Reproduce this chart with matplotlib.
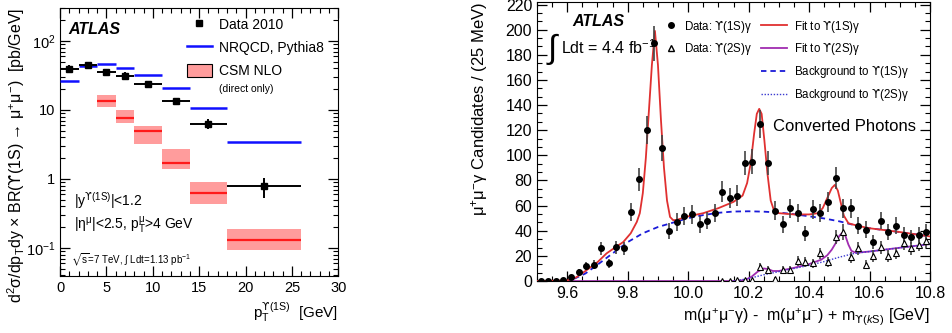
import numpy as np
import matplotlib
matplotlib.use("Agg")
import matplotlib.pyplot as plt
from matplotlib.ticker import MultipleLocator, FixedLocator, FixedFormatter, LogLocator, NullFormatter
from matplotlib.lines import Line2D
from matplotlib.patches import Patch

plt.rcParams['font.family'] = ['Liberation Sans', 'DejaVu Sans']
plt.rcParams['mathtext.fontset'] = 'custom'
plt.rcParams['mathtext.rm'] = 'Liberation Sans'
plt.rcParams['mathtext.it'] = 'Liberation Sans:italic'
plt.rcParams['mathtext.bf'] = 'Liberation Sans:bold'
plt.rcParams['mathtext.sf'] = 'DejaVu Sans'
plt.rcParams['mathtext.fallback'] = 'stixsans'

UPS = '$\\mathsf{ϒ}$'

# ---- left panel: Upsilon(1S) cross section vs pT ----
bin_lo = [0, 2, 4, 6, 8, 11, 14, 18]
bin_hi = [2, 4, 6, 8, 11, 14, 18, 26]
data_xs = [39, 45, 35, 31, 24, 13.3, 6.3, 0.8]
data_err_lo = [5, 3.5, 4.5, 4, 2, 1.7, 1.1, 0.28]
data_err_hi = [5, 3.5, 4.5, 4, 2, 1.7, 1.1, 0.22]
nrqcd = [26.6, 43, 47, 41, 32, 20.5, 10.5, 3.4]
csm_bin_lo = [4, 6, 8, 11, 14, 18]
csm_bin_hi = [6, 8, 11, 14, 18, 26]
csm_central = [13.3, 7.7, 4.9, 1.7, 0.63, 0.13]
csm_low = [11, 6.4, 3.2, 1.39, 0.43, 0.093]
csm_high = [16.5, 10, 5.9, 2.75, 0.91, 0.19]

# ---- right panel: chi_b mass spectrum, 25 MeV bins from 9.5 to 10.8 ----
mass_lo, mass_bin = 9.5, 0.025
counts_1s = [0, 0, 0, 1, 3, 7, 12, 13, 26, 14, 27, 26, 55, 81, 120, 189, 106,
             40, 47, 52, 53, 45, 48, 54, 71, 66, 68, 94, 95, 125, 94, 56, 45,
             58, 54, 38, 57, 54, 63, 82, 58, 58, 44, 41, 31, 48, 39, 44, 37,
             35, 37, 39]
first_2s_bin = 24
counts_2s = [0, 0, 1, 1, 1, 11, 9, 2, 9, 9, 16, 15, 14, 22, 15, 35, 39, 19,
             26, 13, 20, 27, 20, 22, 30, 26, 29, 32]

fit1_m = [9.50, 9.60, 9.63, 9.66, 9.70, 9.73, 9.76, 9.785, 9.81, 9.83, 9.84,
          9.85, 9.86, 9.87, 9.88, 9.89, 9.90, 9.91, 9.92, 9.93, 9.94, 9.95,
          9.96, 10.00, 10.05, 10.10, 10.15, 10.18, 10.195, 10.207, 10.218,
          10.227, 10.235, 10.243, 10.252, 10.262, 10.273, 10.284, 10.30,
          10.35, 10.40, 10.43, 10.445, 10.46, 10.475, 10.485, 10.495, 10.505,
          10.515, 10.53, 10.56, 10.60, 10.70, 10.80]
fit1_v = [0, 0.5, 3, 8, 15, 22, 27, 31, 38, 47, 54, 70, 98, 135, 172, 199,
          172, 128, 90, 64, 51, 48.5, 48.5, 51.5, 54, 58, 63, 68, 78, 94, 117,
          133, 137, 133, 112, 86, 64, 56, 54, 53, 53, 54, 58, 66, 74, 76.5,
          72, 62, 52, 46, 44, 42, 39, 35.5]

bkg1_m = [9.50, 9.60, 9.62, 9.66, 9.70, 9.75, 9.80, 9.85, 9.90, 9.95, 10.00,
          10.05, 10.10, 10.15, 10.20, 10.25, 10.30, 10.35, 10.40, 10.45,
          10.50, 10.55, 10.60, 10.70, 10.80]
bkg1_v = [0, 0, 1.5, 6, 13, 22, 31, 38, 43, 46.5, 50, 52.5, 54.3, 55.3, 55.5,
          55.2, 54.5, 53.2, 51.5, 49.8, 47.5, 44.5, 42, 39, 35.5]

fit2_m = [9.50, 10.16, 10.19, 10.21, 10.23, 10.25, 10.265, 10.28, 10.30,
          10.35, 10.40, 10.44, 10.46, 10.475, 10.49, 10.50, 10.512, 10.52,
          10.53, 10.54, 10.555, 10.60, 10.70, 10.80]
fit2_v = [0, 0, 1, 3.5, 7.5, 10, 9.5, 8, 8, 10.5, 13.5, 17, 20.5, 25, 31, 36,
          39, 36, 29, 24, 22.5, 23.5, 26.5, 29.4]

bkg2_m = [10.15, 10.20, 10.25, 10.30, 10.35, 10.40, 10.45, 10.50, 10.55,
          10.60, 10.70, 10.80]
bkg2_v = [0, 2, 5, 7.5, 10, 12.5, 15.5, 19, 22, 23.5, 26.5, 29.4]

fig = plt.figure(figsize=(9.53, 3.33), dpi=100)
ax1 = fig.add_axes([0.063, 0.171, 0.292, 0.805])
ax2 = fig.add_axes([0.5635, 0.156, 0.4124, 0.838])

# left panel
lo = np.array(bin_lo, dtype=float)
hi = np.array(bin_hi, dtype=float)
ctr = (lo + hi) / 2
clo = np.array(csm_bin_lo, dtype=float)
chi = np.array(csm_bin_hi, dtype=float)
ax1.bar(clo, np.array(csm_high) - np.array(csm_low), bottom=csm_low,
        width=chi - clo, align='edge', color='#ff9c9c', edgecolor='none', zorder=1)
ax1.hlines(csm_central, clo, chi, color='#ff1a1a', lw=1.6, zorder=2)
ax1.hlines(nrqcd, lo, hi, color='#1010ff', lw=1.8, zorder=3)
ax1.errorbar(ctr, data_xs, xerr=[ctr - lo, hi - ctr], yerr=[data_err_lo, data_err_hi],
             fmt='s', color='black', ms=4.5, lw=1.4, capsize=0, zorder=4)
ax1.set_yscale('log')
ax1.set_xlim(0, 30)
ax1.set_ylim(0.039, 300)
ax1.xaxis.set_major_locator(MultipleLocator(5))
ax1.xaxis.set_minor_locator(MultipleLocator(1))
ax1.yaxis.set_major_locator(FixedLocator([0.1, 1, 10, 100]))
ax1.yaxis.set_major_formatter(FixedFormatter(['$10^{-1}$', '1', '10', '$10^{2}$']))
ax1.yaxis.set_minor_locator(LogLocator(base=10, subs=np.arange(2, 10)))
ax1.yaxis.set_minor_formatter(NullFormatter())
ax1.tick_params(which='both', direction='in', top=True, right=True, labelsize=10.5)
ax1.tick_params(which='major', length=7, width=0.9)
ax1.tick_params(which='minor', length=3.5, width=0.8)
ax1.set_ylabel('d$^{2}$σ/dp$_{\\mathrm{T}}$dy × BR(' + UPS + '(1S) → μ$^{+}$μ$^{-}$)  [pb/GeV]',
               fontsize=11.5, loc='top')
ax1.yaxis.set_label_coords(-0.118, 1.0)
ax1.set_xlabel('p$_{\\mathrm{T}}^{\\mathsf{ϒ}\\mathrm{(1S)}}$  [GeV]', fontsize=11, loc='right')

h1 = [Line2D([], [], marker='s', color='black', ls='none', ms=4.5),
      Line2D([], [], color='#1010ff', lw=1.8),
      Patch(facecolor='#ff9c9c', edgecolor='black', lw=0.8)]
ax1.legend(h1, ['Data 2010', 'NRQCD, Pythia8', 'CSM NLO'], loc='upper left',
           bbox_to_anchor=(0.42, 1.0), frameon=False, fontsize=10,
           handlelength=1.8, handleheight=1.1, labelspacing=0.62, handletextpad=0.5,
           borderaxespad=0.3)
ax1.text(0.572, 0.698, '(direct only)', transform=ax1.transAxes, fontsize=7.5,
         va='center')
ax1.text(0.03, 0.918, 'ATLAS', transform=ax1.transAxes, fontsize=11.5,
         fontweight='bold', fontstyle='italic', va='center')
ax1.text(0.05, 0.28, '|y$^{\\mathsf{ϒ}\\mathrm{(1S)}}$|<1.2', transform=ax1.transAxes,
         fontsize=10, va='center')
ax1.text(0.05, 0.19, '|η$^{\\mathrm{μ}}$|<2.5, p$_{\\mathrm{T}}^{\\mathrm{μ}}$>4 GeV',
         transform=ax1.transAxes, fontsize=10, va='center')
ax1.text(0.04, 0.063, '$\\sqrt{\\mathrm{s}}$=7 TeV, $\\int$ Ldt=1.13 pb$^{-1}$',
         transform=ax1.transAxes, fontsize=7, va='center')

# right panel
centers = mass_lo + mass_bin * (np.arange(len(counts_1s)) + 0.5)
c1 = np.array(counts_1s, dtype=float)
c2 = np.array(counts_2s, dtype=float)
x2 = centers[first_2s_bin:first_2s_bin + len(c2)]
ax2.plot(fit2_m, fit2_v, color='#a02cb0', lw=1.3, zorder=2)
ax2.plot(bkg2_m, bkg2_v, color='#3a3ad0', lw=1.0, ls=(0, (1, 1.2)), zorder=2)
ax2.plot(bkg1_m, bkg1_v, color='#1a1ad8', lw=1.3, ls=(0, (3, 2.2)), zorder=2)
ax2.plot(fit1_m, fit1_v, color='#e03030', lw=1.3, zorder=3)
ax2.errorbar(centers, c1, yerr=np.sqrt(c1), fmt='o', color='black', ms=4,
             ecolor='#444444', elinewidth=1.2, capsize=0, zorder=4)
ax2.errorbar(x2, c2, yerr=np.sqrt(c2), fmt='^', mfc='white', mec='black', mew=0.8,
             ms=4.5, ecolor='#444444', elinewidth=1.2, capsize=0, zorder=4)
ax2.set_xlim(9.5, 10.8)
ax2.set_ylim(0, 222)
ax2.xaxis.set_major_locator(MultipleLocator(0.2))
ax2.xaxis.set_minor_locator(MultipleLocator(0.05))
ax2.xaxis.set_major_formatter(matplotlib.ticker.FormatStrFormatter('%.1f'))
ax2.yaxis.set_major_locator(MultipleLocator(20))
ax2.yaxis.set_minor_locator(MultipleLocator(20 / 3))
ax2.tick_params(which='both', direction='in', top=True, right=True, labelsize=11.5)
ax2.tick_params(which='major', length=7, width=0.9)
ax2.tick_params(which='minor', length=3.5, width=0.8)
ax2.set_ylabel('μ$^{+}$μ$^{-}$γ Candidates / (25 MeV)', fontsize=12, loc='top')
ax2.yaxis.set_label_coords(-0.12, 1.0)
ax2.set_xlabel('m(μ$^{+}$μ$^{-}$γ) -  m(μ$^{+}$μ$^{-}$) + m$_{\\mathsf{ϒ}\\mathrm{(}k\\mathrm{S)}}$ [GeV]',
               fontsize=11.5, loc='right')

hd = [Line2D([], [], marker='o', color='black', ls='none', ms=4),
      Line2D([], [], marker='^', mfc='white', mec='black', ls='none', ms=4.5)]
leg_d = ax2.legend(hd, ['Data: ' + UPS + '(1S)γ', 'Data: ' + UPS + '(2S)γ'],
                   loc='upper left', bbox_to_anchor=(0.3, 0.978), frameon=False,
                   fontsize=8.3, handlelength=1.0, labelspacing=0.6, handletextpad=0.6)
ax2.add_artist(leg_d)
hf = [Line2D([], [], color='#e03030', lw=1.3),
      Line2D([], [], color='#a02cb0', lw=1.3),
      Line2D([], [], color='#1a1ad8', lw=1.3, ls=(0, (3, 2.2))),
      Line2D([], [], color='#3a3ad0', lw=1.0, ls=(0, (1, 1.2)))]
ax2.legend(hf, ['Fit to ' + UPS + '(1S)γ', 'Fit to ' + UPS + '(2S)γ',
                'Background to ' + UPS + '(1S)γ', 'Background to ' + UPS + '(2S)γ'],
           loc='upper left', bbox_to_anchor=(0.543, 0.978), frameon=False,
           fontsize=8.3, handlelength=2.3, labelspacing=0.6, handletextpad=0.6)
ax2.text(0.09, 0.93, 'ATLAS', transform=ax2.transAxes, fontsize=11.5,
         fontweight='bold', fontstyle='italic', va='center')
ax2.text(0.022, 0.83, '$\\int$', transform=ax2.transAxes, fontsize=24, va='center')
ax2.text(0.062, 0.835, 'Ldt = 4.4 fb$^{-1}$', transform=ax2.transAxes, fontsize=11.5,
         va='center')
ax2.text(0.6, 0.553, 'Converted Photons', transform=ax2.transAxes, fontsize=12,
         va='center')

fig.savefig('out.png', dpi=100)
